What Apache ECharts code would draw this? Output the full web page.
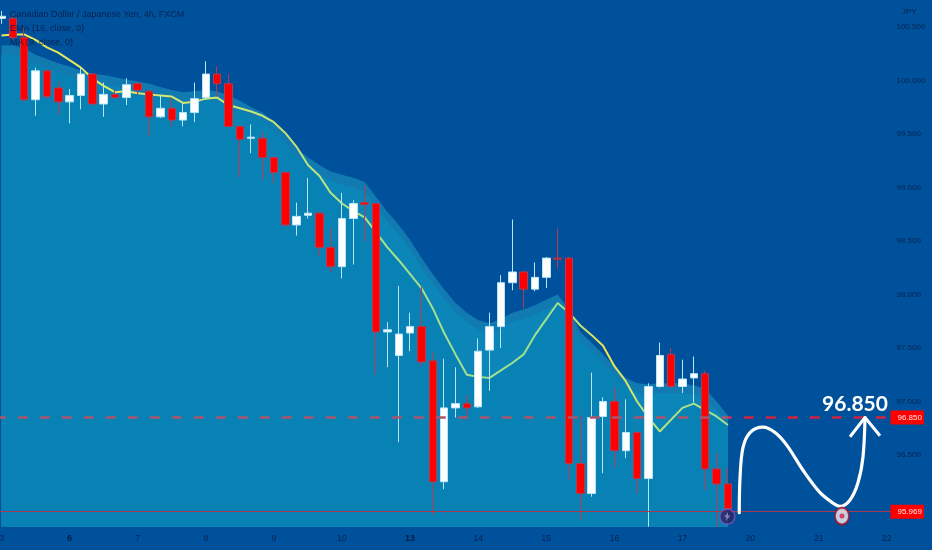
<!DOCTYPE html>
<html><head><meta charset="utf-8">
<script src="https://cdn.jsdelivr.net/npm/echarts@6/dist/echarts.min.js"></script>
<style>html,body{margin:0;padding:0;background:#00519b}#c{width:932px;height:550px}</style>
</head><body><div id="c"></div>
<script>
const opens =[100.58,100.58,100.40,99.82,100.09,99.93,99.80,99.86,100.06,99.78,99.87,99.84,99.97,99.90,99.66,99.74,99.63,99.70,99.84,100.06,99.97,99.57,99.46,99.46,99.28,99.14,98.65,98.74,98.76,98.44,98.26,98.71,98.86,98.85,97.65,97.43,97.64,97.70,97.38,96.25,96.94,96.98,96.95,97.48,97.70,98.11,98.21,98.05,98.16,98.34,98.34,96.42,96.14,96.86,97.00,96.54,96.71,96.28,97.14,97.44,97.14,97.22,97.26,96.37,96.23];
const closes=[100.60,100.40,99.82,100.09,99.85,99.80,99.86,100.06,99.78,99.87,99.84,99.96,99.91,99.66,99.74,99.63,99.70,99.83,100.06,99.97,99.57,99.45,99.47,99.28,99.14,98.65,98.73,98.76,98.44,98.26,98.71,98.85,98.84,97.65,97.67,97.63,97.70,97.37,96.25,96.94,96.98,96.94,97.47,97.70,98.11,98.21,98.05,98.16,98.34,98.33,96.42,96.14,96.85,97.00,96.54,96.71,96.28,97.14,97.43,97.14,97.21,97.26,96.37,96.23,96.00];
const lows  =[100.53,100.38,99.80,99.67,99.83,99.68,99.60,99.73,99.77,99.66,99.83,99.77,99.86,99.48,99.65,99.57,99.57,99.61,99.82,99.85,99.57,99.10,99.32,99.07,99.04,98.63,98.55,98.71,98.36,98.21,98.15,98.28,98.50,97.25,97.32,96.62,97.47,97.33,95.94,96.18,96.85,96.83,96.94,97.10,97.50,98.04,97.87,98.03,98.06,98.24,96.27,95.89,96.11,96.33,96.38,96.47,96.14,95.83,97.13,97.13,97.08,96.99,96.17,95.83,95.96];
const highs =[100.65,100.61,100.49,100.12,100.10,99.99,99.92,100.12,100.07,99.98,99.92,100.02,99.98,99.91,99.86,99.84,99.79,99.98,100.18,100.13,100.06,99.58,99.59,99.52,99.29,99.15,98.86,99.09,98.77,98.62,98.95,98.88,99.02,98.85,97.74,98.08,97.83,98.07,97.46,97.40,97.32,97.06,97.59,97.83,98.18,98.70,98.22,98.30,98.35,98.62,98.35,96.87,97.27,97.04,97.13,97.02,96.72,97.17,97.55,97.50,97.39,97.42,97.29,96.52,96.38];
const maLine=[100.42,100.43,100.43,100.38,100.31,100.26,100.19,100.12,100.02,99.95,99.89,99.90,99.88,99.87,99.86,99.85,99.79,99.80,99.83,99.84,99.77,99.74,99.71,99.67,99.61,99.51,99.38,99.21,99.11,98.95,98.85,98.78,98.72,98.58,98.44,98.32,98.19,98.06,97.87,97.64,97.44,97.25,97.23,97.22,97.29,97.36,97.44,97.62,97.77,97.92,97.83,97.71,97.62,97.52,97.33,97.19,97.00,96.85,96.72,96.83,96.94,96.98,96.92,96.86,96.78];
const emaLine=[100.33,100.33,100.30,100.24,100.20,100.16,100.13,100.09,100.06,100.05,100.03,100.01,99.99,99.97,99.94,99.91,99.89,99.90,99.91,99.90,99.86,99.81,99.75,99.70,99.61,99.49,99.37,99.28,99.21,99.15,99.12,99.09,99.05,98.91,98.77,98.65,98.51,98.34,98.19,98.05,97.92,97.83,97.76,97.73,97.77,97.83,97.86,97.90,97.95,98.00,97.86,97.65,97.55,97.44,97.33,97.22,97.17,97.16,97.17,97.17,97.17,97.15,97.12,97.00,96.87];
const dayLabels={0:'3',6:'6',12:'7',18:'8',24:'9',30:'10',36:'13',42:'14',48:'15',54:'16',60:'17',66:'20',72:'21',78:'22'};
const boldDays=['6','13'];
const priceTicks=[96.5,97,97.5,98,98.5,99,99.5,100,100.5];
const targetPrice=96.850, lastPrice=95.969;
const priceFloor=95.827, priceCeil=100.752;
const curveX=[65.0,65.07,65.33,65.95,67.09,68.15,69.2,70.6,72.1,73.26,73.88,74.76,75.46,75.9,76.08];
const curveP=[95.96,96.29,96.57,96.71,96.76,96.71,96.59,96.36,96.15,96.05,96.02,96.08,96.24,96.48,96.85];
const headX=[74.76,76.08,77.4];
const headP=[96.67,96.85,96.68];
const titleLines=['Canadian Dollar / Japanese Yen, 4h, FXCM','EMA (16, close, 0)','MA (9, close, 0)'];

const slots=Array.from({length:79},(_,i)=>String(i));
const candles=opens.map((o,i)=>[o,closes[i],lows[i],highs[i]]);
const lowerEdge=emaLine.map((v,i)=>Math.min(v,maLine[i]));
const stripInner=emaLine.map(v=>v-0.09);
const navy='#08224f';
const sans='Liberation Sans';
const tag=(v)=>({position:'end',distance:-2,formatter:()=>v.toFixed(3),color:'#ffe6e6',backgroundColor:'#ff0000',padding:[3,2,3,7],fontSize:8,fontFamily:sans});
const area=(d,c)=>({type:'line',data:d,z:1,showSymbol:false,silent:true,lineStyle:{width:0},itemStyle:{opacity:0},areaStyle:{color:c,opacity:1}});
const chart=echarts.init(document.getElementById('c'),null,{renderer:'canvas'});
chart.setOption({
 animation:false,
 backgroundColor:'#00519b',
 title:[
  {text:titleLines.join('\n'),left:5,top:3,textStyle:{color:navy,fontSize:9,fontWeight:'normal',lineHeight:14,fontFamily:sans}},
  {text:'JPY',left:897,top:3,textStyle:{color:navy,fontSize:8,fontWeight:'normal',fontFamily:sans}}
 ],
 grid:{left:-4.175,width:896.65,top:0,height:527,containLabel:false,outerBoundsMode:'none'},
 xAxis:[
  {type:'category',data:slots,boundaryGap:true,axisLine:{show:false},axisTick:{show:false},splitLine:{show:false},
   axisLabel:{interval:i=>dayLabels[i]!==undefined,margin:7,color:navy,fontSize:8.5,fontFamily:sans,
     formatter:(v)=>{const t=dayLabels[v]||'';return boldDays.includes(t)?'{b|'+t+'}':t;},
     rich:{b:{fontWeight:'bold',color:'#071c44',fontSize:9,fontFamily:sans}}}},
  {type:'value',min:-0.5,max:78.5,show:false}
 ],
 yAxis:{type:'value',position:'right',min:priceFloor,max:priceCeil,axisLine:{show:false},axisTick:{show:false},splitLine:{show:false},
   axisLabel:{customValues:priceTicks,margin:4,color:navy,fontSize:8,fontFamily:sans,formatter:v=>v.toFixed(3)}},
 series:[
  area(emaLine,'#117ab1'),
  area(stripInner,'#0c86b8'),
  area(lowerEdge.map((v,i)=>Math.min(v,stripInner[i])),'#0882b5'),
  {type:'line',data:[],z:2,silent:true,markLine:{silent:true,symbol:'none',animation:false,data:[
     {yAxis:targetPrice,lineStyle:{color:new echarts.graphic.LinearGradient(0,0,932,0,[{offset:0,color:'#a8566e'},{offset:.78,color:'#a8566e'},{offset:.785,color:'#cf2240'},{offset:1,color:'#cf2240'}],true),type:[10,12],width:2.5},label:tag(targetPrice)},
     {yAxis:lastPrice,lineStyle:{color:'#a83a55',type:'solid',width:1},label:tag(lastPrice)}
  ]}},
  {type:'line',data:maLine,z:3,showSymbol:false,silent:true,lineStyle:{width:2,color:new echarts.graphic.LinearGradient(0,0,1,0,[
     {offset:0,color:'#eaea55'},{offset:.3,color:'#cfe870'},{offset:.55,color:'#a5e08e'},{offset:.77,color:'#9ee08c'},{offset:.83,color:'#f0e650'},{offset:.88,color:'#c0e478'},{offset:1,color:'#a0e090'}])}},
  {type:'candlestick',data:candles,z:4,barWidth:8,silent:true,itemStyle:{color:'#ffffff',color0:'#ff0000',borderColor:'#b5e6f6',borderColor0:'#b23a52',borderWidth:1}},
  {type:'line',xAxisIndex:1,data:curveX.map((x,i)=>[x,curveP[i]]),z:5,smooth:0.35,showSymbol:false,silent:true,lineStyle:{color:'#fff',width:3.2,cap:'round'}},
  {type:'line',xAxisIndex:1,data:headX.map((x,i)=>[x,headP[i]]),z:5,showSymbol:false,silent:true,lineStyle:{color:'#fff',width:3},
    markPoint:{silent:true,animation:false,symbol:'circle',symbolSize:0,data:[{coord:[75.2,targetPrice],value:targetPrice,
     label:{show:true,position:'top',distance:2.5,formatter:()=>targetPrice.toFixed(3),color:'#fff',fontSize:21,fontWeight:'bold',fontFamily:'Lato'}}]}},
  {type:'scatter',xAxisIndex:1,data:[[63.95,lastPrice-0.045]],z:6,symbol:'circle',symbolSize:15,silent:true,itemStyle:{color:'#2b2560',borderColor:'#8a4fc4',borderWidth:1.5}},
  {type:'scatter',xAxisIndex:1,data:[[63.95,lastPrice-0.045]],z:7,symbol:'path://M6 0L1 6H4L3 11L9 4H5.5Z',symbolSize:[6,9],silent:true,itemStyle:{color:'#b08ae0'}},
  {type:'scatter',xAxisIndex:1,data:[[74.05,lastPrice-0.04]],z:6,symbol:'circle',symbolSize:[14,17],silent:true,itemStyle:{color:'#f5f0f0',borderColor:'#9c1030',borderWidth:2}},
  {type:'scatter',xAxisIndex:1,data:[[74.05,lastPrice-0.04]],z:7,symbol:'circle',symbolSize:5,silent:true,itemStyle:{color:'#e02040'}}
 ]
});
</script></body></html>
